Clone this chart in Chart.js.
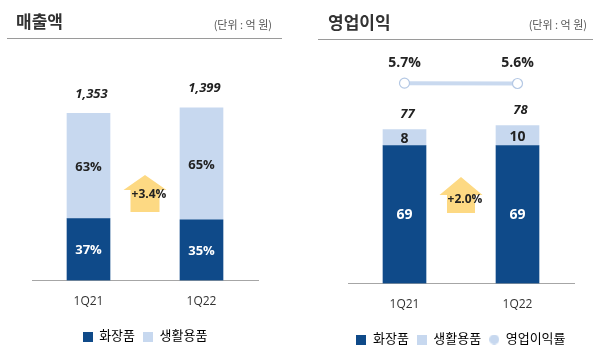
<!DOCTYPE html>
<html><head><meta charset="utf-8">
<script src="https://cdn.jsdelivr.net/npm/chart.js@4"></script>
<style>
body{margin:0;background:#fff;}
#wrap{position:relative;width:600px;height:357px;overflow:hidden;font-family:'Open Sans','Noto Sans CJK KR',sans-serif;}
.panel{position:absolute;top:0;width:300px;height:357px;}
canvas{position:absolute;left:0;top:0;}
.title{position:absolute;font-family:'Noto Sans CJK KR',sans-serif;font-weight:bold;font-size:17px;color:#333;line-height:1;white-space:nowrap;}
.unit{position:absolute;font-family:'Noto Sans CJK KR',sans-serif;font-size:11px;color:#555;line-height:1;white-space:nowrap;}
.rule{position:absolute;height:1px;background:#9a9a9a;}
</style></head>
<body>
<div id="wrap">
  <div class="panel" style="left:0">
    <canvas id="c1" width="300" height="357"></canvas>
    <div class="title" style="left:16px;top:12px">매출액</div>
    <div class="unit" style="right:28px;top:19px">(단위 : 억 원)</div>
    <div class="rule" style="left:7px;width:275px;top:38px"></div>
  </div>
  <div class="panel" style="left:300px">
    <canvas id="c2" width="300" height="357"></canvas>
    <div class="title" style="left:28px;top:13px">영업이익</div>
    <div class="unit" style="right:13px;top:19px">(단위 : 억 원)</div>
    <div class="rule" style="left:18px;width:275px;top:39px"></div>
  </div>
</div>
<script>
// ---- data ----
const quarters = ['1Q21', '1Q22'];
const seriesNames = ['화장품', '생활용품'];
const marginName = '영업이익률';

const salesCosmetics = [500, 490];   // 억 원
const salesHousehold = [853, 909];
const salesTotals = [1353, 1399];
const salesCosmeticsShare = ['37%', '35%'];
const salesHouseholdShare = ['63%', '65%'];
const salesGrowth = '+3.4%';

const opCosmetics = [69, 69];
const opHousehold = [8, 10];
const opTotals = [77, 78];
const opMargin = [5.7, 5.6];        // %
const opGrowth = '+2.0%';

// ---- styles ----
const DARK = '#0F4A89';
const LIGHT = '#C7D8EF';
const LINE = '#C9D9EF';
const ARROW = '#FDD983';
const FONT = "'Open Sans','Noto Sans CJK KR',sans-serif";

function swatch(shape, color) {
  const c = document.createElement('canvas');
  c.width = 10; c.height = 10;
  const g = c.getContext('2d');
  g.fillStyle = color;
  if (shape === 'circle') { g.beginPath(); g.arc(5, 5, 5, 0, Math.PI * 2); g.fill(); }
  else g.fillRect(0, 0, 10, 10);
  return c;
}

function annotPlugin(cfg) {
  return {
    id: 'annot',
    afterDatasetsDraw(chart) {
      const ctx = chart.ctx;
      const xs = chart.scales.x;
      ctx.save();
      // growth arrow
      const cx = (xs.getPixelForValue(0) + xs.getPixelForValue(1)) / 2;
      const a = cfg.arrow;
      ctx.fillStyle = ARROW;
      ctx.beginPath();
      ctx.moveTo(cx, a.apex);
      ctx.lineTo(cx + a.head, a.base);
      ctx.lineTo(cx + a.shaft, a.base);
      ctx.lineTo(cx + a.shaft, a.bottom);
      ctx.lineTo(cx - a.shaft, a.bottom);
      ctx.lineTo(cx - a.shaft, a.base);
      ctx.lineTo(cx - a.head, a.base);
      ctx.closePath();
      ctx.fill();
      ctx.fillStyle = '#222';
      ctx.font = 'bold 12px ' + FONT;
      ctx.textAlign = 'center';
      ctx.textBaseline = 'middle';
      ctx.fillText(a.text, cx + a.tdx, a.ty);

      // inner segment labels
      cfg.inner.forEach((labels, di) => {
        const meta = chart.getDatasetMeta(di);
        ctx.fillStyle = di === 0 ? '#fff' : '#222';
        ctx.font = 'bold ' + cfg.innerSize + 'px ' + FONT;
        meta.data.forEach((el, i) => {
          ctx.fillText(labels[i], el.x, (el.y + el.base) / 2 + 1);
        });
      });
      // totals
      const topMeta = chart.getDatasetMeta(1);
      ctx.fillStyle = '#222';
      ctx.font = 'italic bold 13px ' + FONT;
      topMeta.data.forEach((el, i) => {
        ctx.fillText(cfg.totals[i].toLocaleString('en-US'), el.x + 3, el.y - cfg.totalOffset);
      });
      // line labels
      if (cfg.lineLabels) {
        const lm = chart.getDatasetMeta(2);
        ctx.font = 'bold 14px ' + FONT;
        lm.data.forEach((el, i) => {
          ctx.fillText(cfg.lineLabels[i], el.x, el.y - 20);
        });
      }
      ctx.restore();
    }
  };
}

function baseOptions(padLeft, padRight, padBottom, ymax, extraScales) {
  const scales = {
    x: {
      stacked: true,
      grid: { display: false, drawTicks: false },
      border: { display: true, color: '#A6A6A6', width: 1 },
      ticks: { color: '#333', font: { family: FONT, size: 12, lineHeight: 1.3 }, padding: 13 }
    },
    y: { stacked: true, display: false, min: 0, max: ymax }
  };
  Object.assign(scales, extraScales || {});
  return {
    responsive: false,
    animation: false,
    devicePixelRatio: 1,
    layout: { padding: { left: padLeft, right: padRight, top: 40, bottom: padBottom } },
    scales,
    plugins: {
      tooltip: { enabled: false },
      legend: {
        position: 'bottom',
        labels: {
          usePointStyle: true,
          boxWidth: 10, boxHeight: 10,
          padding: 8,
          color: '#404040',
          font: { family: FONT, size: 13 },
          generateLabels(chart) {
            return chart.data.datasets.map((ds, i) => ({
              text: ds.label,
              pointStyle: swatch(ds.type === 'line' ? 'circle' : 'rect', ds.type === 'line' ? LIGHT : ds.backgroundColor),
              fillStyle: ds.backgroundColor,
              strokeStyle: 'transparent',
              lineWidth: 0,
              hidden: false,
              datasetIndex: i
            }));
          }
        }
      }
    }
  };
}

new Chart(document.getElementById('c1'), {
  type: 'bar',
  data: {
    labels: quarters,
    datasets: [
      { label: seriesNames[0], data: salesCosmetics, backgroundColor: DARK, barThickness: 43 },
      { label: seriesNames[1], data: salesHousehold, backgroundColor: LIGHT, barThickness: 43 }
    ]
  },
  options: baseOptions(32, 42, 4, 1948),
  plugins: [annotPlugin({
    arrow: { apex: 175, base: 190, bottom: 212, head: 21.5, shaft: 14.5, text: salesGrowth, tdx: 4, ty: 195 },
    inner: [salesCosmeticsShare, salesHouseholdShare],
    innerSize: 13,
    totals: salesTotals,
    totalOffset: 19
  })]
});

new Chart(document.getElementById('c2'), {
  type: 'bar',
  data: {
    labels: quarters,
    datasets: [
      { label: seriesNames[0], data: opCosmetics, backgroundColor: DARK, barThickness: 43, order: 2 },
      { label: seriesNames[1], data: opHousehold, backgroundColor: LIGHT, barThickness: 43, order: 2 },
      { label: marginName, type: 'line', data: opMargin, yAxisID: 'y2', order: 1,
        borderColor: LINE, backgroundColor: LIGHT, borderWidth: 4,
        pointRadius: 5, pointBackgroundColor: '#fff', pointBorderColor: '#B4C8E4', pointBorderWidth: 1.2 }
    ]
  },
  options: baseOptions(48, 26, 1, 121.8, { y2: { display: false, min: -50, max: 17.7 } }),
  plugins: [annotPlugin({
    arrow: { apex: 177, base: 195, bottom: 213, head: 21.5, shaft: 14, text: opGrowth, tdx: 4, ty: 200 },
    inner: [opCosmetics.map(String), opHousehold.map(String)],
    innerSize: 14,
    totals: opTotals,
    totalOffset: 15,
    lineLabels: opMargin.map(v => v.toFixed(1) + '%')
  })]
});
</script>
</body></html>
